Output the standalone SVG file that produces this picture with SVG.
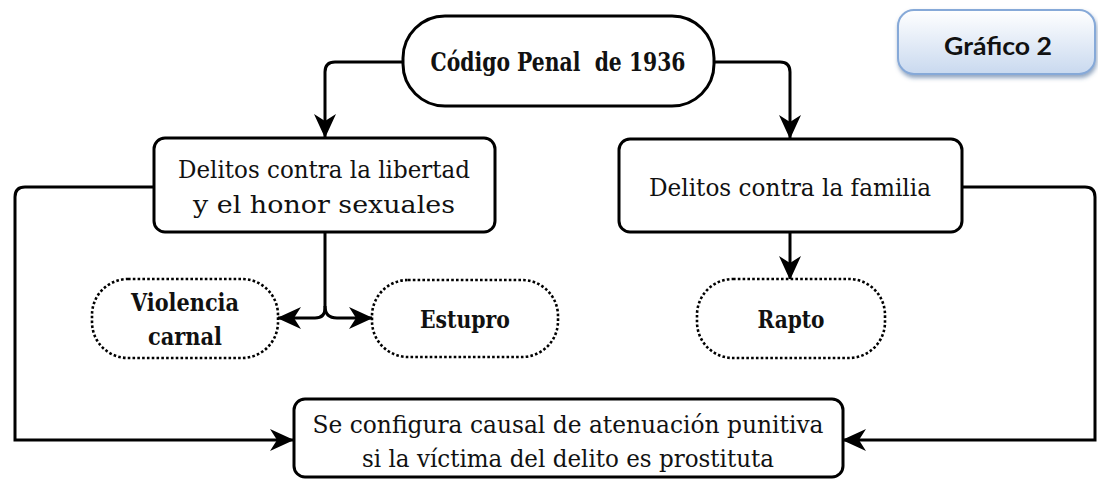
<svg xmlns="http://www.w3.org/2000/svg" width="1098" height="480" viewBox="0 0 1098 480">
<style>
.box{fill:#fff;stroke:#000;stroke-width:3}
.dot{fill:#fff;stroke:#000;stroke-width:2.6;stroke-dasharray:2.6 2.2}
.t{font-family:"DejaVu Serif","Liberation Serif",serif;fill:#111;text-anchor:middle;font-size:25px}
.b{font-weight:bold}
.c{fill:none;stroke:#000;stroke-width:3}
</style>
<defs>
<marker id="ah" viewBox="0 0 24 22" refX="23" refY="11" markerWidth="24" markerHeight="22" markerUnits="userSpaceOnUse" orient="auto">
<path d="M0,0 L24,11 L0,22 L7,11 Z" fill="#000"/>
</marker>
<linearGradient id="gb" x1="0" y1="0" x2="0" y2="1">
<stop offset="0" stop-color="#ffffff"/>
<stop offset="1" stop-color="#c9d9ef"/>
</linearGradient>
<filter id="sh" x="-10%" y="-10%" width="130%" height="140%">
<feDropShadow dx="1" dy="3" stdDeviation="2" flood-color="#4a6a96" flood-opacity="0.6"/>
</filter>
</defs>
<g id="connectors">
<path class="c" d="M403,62 H335 Q325,62 325,72 V137" marker-end="url(#ah)"/>
<path class="c" d="M714,62 H780 Q790,62 790,72 V138" marker-end="url(#ah)"/>
<path class="c" d="M154,187 H25 Q15,187 15,197 V440 H293" marker-end="url(#ah)"/>
<path class="c" d="M962,187 H1085 Q1095,187 1095,197 V440 H843" marker-end="url(#ah)"/>
<path class="c" d="M325,232 V308 Q325,318 315,318 H278" marker-end="url(#ah)"/>
<path class="c" d="M325,306 Q325,318 337,318 H372" marker-end="url(#ah)"/>
<path class="c" d="M790,232 V279" marker-end="url(#ah)"/>
</g>
<g id="grafico">
<rect x="898" y="10" width="197" height="64" rx="16" fill="url(#gb)" stroke="#86a9d8" stroke-width="2" filter="url(#sh)"/>
<text x="998" y="55" font-family="Lato,'Open Sans',sans-serif" font-weight="bold" font-size="25" text-anchor="middle" fill="#111" textLength="108" lengthAdjust="spacingAndGlyphs">Gráfico 2</text>
</g>
<g id="codigo">
<rect class="box" x="403" y="16" width="311" height="90" rx="42"/>
<text class="t b" x="558" y="71" style="font-size:26px;white-space:pre" textLength="255" lengthAdjust="spacingAndGlyphs">Código Penal  de 1936</text>
</g>
<g id="libertad">
<rect class="box" x="154" y="138" width="341" height="94" rx="11"/>
<text class="t" x="324" y="178" textLength="292" lengthAdjust="spacingAndGlyphs">Delitos contra la libertad</text>
<text class="t" x="324" y="213" textLength="262" lengthAdjust="spacingAndGlyphs">y el honor sexuales</text>
</g>
<g id="familia">
<rect class="box" x="619" y="139" width="343" height="93" rx="11"/>
<text class="t" x="790" y="196" textLength="282" lengthAdjust="spacingAndGlyphs">Delitos contra la familia</text>
</g>
<g id="violencia">
<rect class="dot" x="92" y="279" width="186" height="79" rx="36"/>
<text class="t b" x="185" y="311" textLength="108" lengthAdjust="spacingAndGlyphs">Violencia</text>
<text class="t b" x="185" y="345" textLength="74" lengthAdjust="spacingAndGlyphs">carnal</text>
</g>
<g id="estupro">
<rect class="dot" x="372" y="280" width="186" height="77" rx="36"/>
<text class="t b" x="465" y="328" textLength="90" lengthAdjust="spacingAndGlyphs">Estupro</text>
</g>
<g id="rapto">
<rect class="dot" x="697" y="279" width="188" height="79" rx="36"/>
<text class="t b" x="791" y="328" textLength="67" lengthAdjust="spacingAndGlyphs">Rapto</text>
</g>
<g id="atenuacion">
<rect class="box" x="294" y="399" width="549" height="78" rx="11"/>
<text class="t" x="568" y="433" textLength="511" lengthAdjust="spacingAndGlyphs">Se configura causal de atenuación punitiva</text>
<text class="t" x="568" y="467" textLength="412" lengthAdjust="spacingAndGlyphs">si la víctima del delito es prostituta</text>
</g>
</svg>
